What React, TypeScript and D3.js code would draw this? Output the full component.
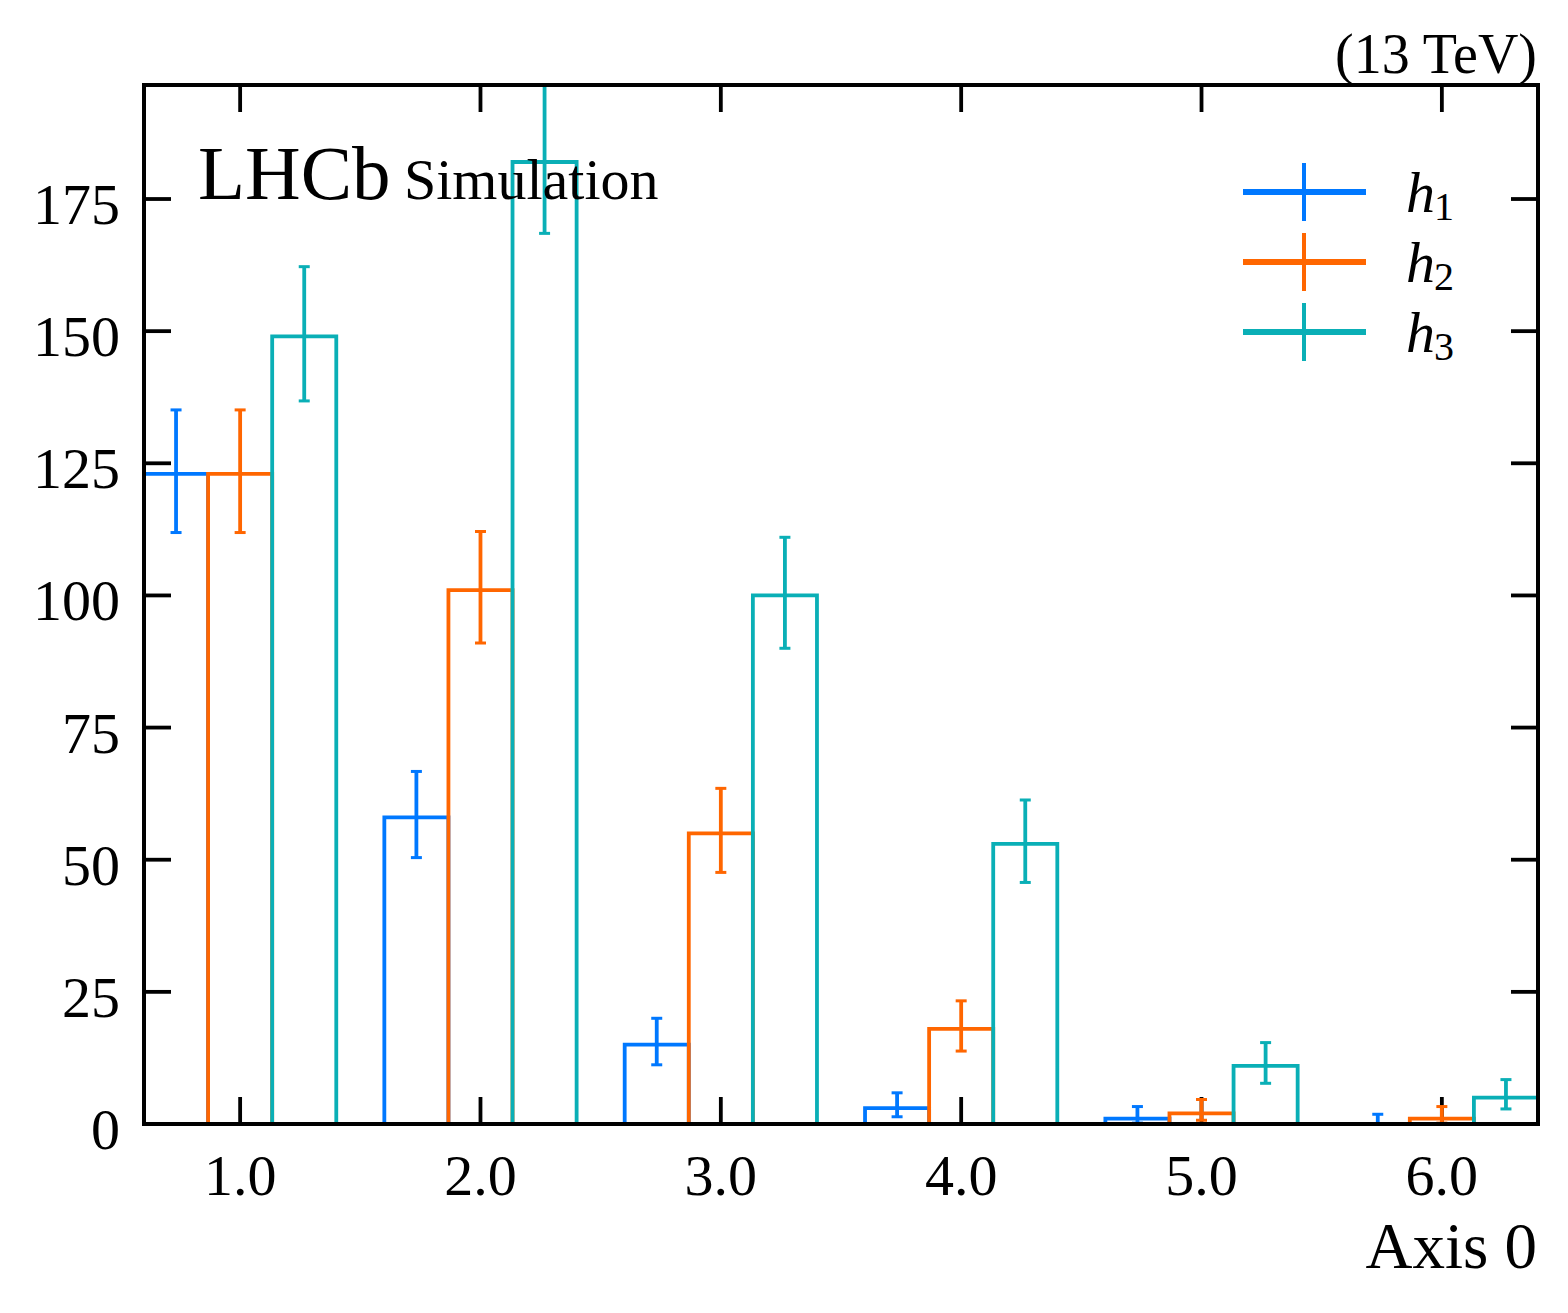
import React from "react";
import * as d3 from "d3";

// ---- data ----
const binCenters = [1, 2, 3, 4, 5, 6];
const seriesNames = ["h1", "h2", "h3"];
const seriesSubs = ["1", "2", "3"];
const seriesColors = ["#0078FF", "#FF6600", "#0AAFB6"];

const h1Values = [123, 58, 15, 3, 1, 0];
const h2Values = [123, 101, 55, 18, 2, 1];
const h3Values = [149, 182, 100, 53, 11, 5];

const h1Low = [111.9, 50.4, 11.2, 1.37, 0.17, 0];
const h1High = [135.1, 66.7, 20.0, 5.9, 3.3, 1.84];
const h2Low = [111.9, 91.0, 47.6, 13.8, 0.71, 0.17];
const h2High = [135.1, 112.1, 63.5, 23.3, 4.64, 3.3];
const h3Low = [136.8, 168.5, 90.0, 45.7, 7.7, 2.85];
const h3High = [162.2, 196.5, 111.0, 61.3, 15.4, 8.4];

const xTicks = [1, 2, 3, 4, 5, 6];
const xTickLabels = ["1.0", "2.0", "3.0", "4.0", "5.0", "6.0"];
const yTicks = [0, 25, 50, 75, 100, 125, 150, 175];
const yTickLabels = ["0", "25", "50", "75", "100", "125", "150", "175"];

const xDomain = [0.6, 6.4];
const yDomain = [0, 196.57];

const values = [h1Values, h2Values, h3Values];
const lows = [h1Low, h2Low, h3Low];
const highs = [h1High, h2High, h3High];

const W = 1568;
const H = 1313;
const L = 144;
const R = 1538;
const T = 85;
const B = 1124;
const FONT = "'Liberation Serif', 'Times New Roman', Times, serif";

export default function App() {
  const x = d3.scaleLinear().domain(xDomain).range([L, R]);
  const y = d3.scaleLinear().domain(yDomain).range([B, T]);
  const sub = d3.scaleBand<string>().domain(seriesNames).range([-0.4, 0.4]);
  const tickLen = 27;
  const tickW = 3.8;

  const stepPath = (si: number) => {
    const p = d3.path();
    const name = seriesNames[si];
    binCenters.forEach((c, i) => {
      const xl = x(c + (sub(name) as number));
      const xr = x(c + (sub(name) as number) + sub.bandwidth());
      const yv = y(values[si][i]);
      if (i === 0) p.moveTo(xl, y(0));
      else p.lineTo(xl, y(0));
      p.lineTo(xl, yv);
      p.lineTo(xr, yv);
      p.lineTo(xr, y(0));
    });
    return p.toString();
  };

  return (
    <div style={{ position: "absolute", left: 0, top: 0 }}>
      <svg width={W} height={H} viewBox={`0 0 ${W} ${H}`} style={{ display: "block", background: "#fff" }}>
        <defs>
          <clipPath id="plotclip">
            <rect x={L} y={T} width={R - L} height={B - T} />
          </clipPath>
        </defs>
        <rect x={0} y={0} width={W} height={H} fill="#fff" />

        {/* ticks */}
        <g stroke="#000" strokeWidth={tickW}>
          {xTicks.map((t) => (
            <g key={"xt" + t}>
              <line x1={x(t)} x2={x(t)} y1={B} y2={B - tickLen} />
              <line x1={x(t)} x2={x(t)} y1={T} y2={T + tickLen} />
            </g>
          ))}
          {yTicks.map((t) => (
            <g key={"yt" + t}>
              <line x1={L} x2={L + tickLen} y1={y(t)} y2={y(t)} />
              <line x1={R} x2={R - tickLen} y1={y(t)} y2={y(t)} />
            </g>
          ))}
        </g>

        {/* histograms */}
        <g clipPath="url(#plotclip)">
          {seriesNames.map((name, si) => (
            <g key={name}>
              <path d={stepPath(si)} fill="none" stroke={seriesColors[si]} strokeWidth={3.8} strokeLinejoin="miter" />
              {binCenters.map((c, i) => {
                const xc = x(c + (sub(name) as number) + sub.bandwidth() / 2);
                const yl = y(lows[si][i]);
                const yh = y(highs[si][i]);
                return (
                  <g key={i} stroke={seriesColors[si]}>
                    <line x1={xc} x2={xc} y1={yl} y2={yh} strokeWidth={3.8} />
                    <line x1={xc - 5.5} x2={xc + 5.5} y1={yl} y2={yl} strokeWidth={3} />
                    <line x1={xc - 5.5} x2={xc + 5.5} y1={yh} y2={yh} strokeWidth={3} />
                  </g>
                );
              })}
            </g>
          ))}
        </g>

        {/* frame */}
        <rect x={L} y={T} width={R - L} height={B - T} fill="none" stroke="#000" strokeWidth={4} />

        {/* tick labels */}
        <g fontFamily={FONT} fontSize={58} fill="#000">
          {xTicks.map((t, i) => (
            <text key={"xl" + t} x={x(t)} y={1195} textAnchor="middle">
              {xTickLabels[i]}
            </text>
          ))}
          {yTicks.map((t, i) => (
            <text key={"yl" + t} x={120} y={y(t) + 25} textAnchor="end">
              {yTickLabels[i]}
            </text>
          ))}
        </g>

        {/* axis label */}
        <text x={1537} y={1268} textAnchor="end" fontFamily={FONT} fontSize={65}>
          Axis 0
        </text>

        {/* experiment label */}
        <text x={198} y={199} fontFamily={FONT} fill="#000">
          <tspan fontSize={77}>LHCb</tspan>
          <tspan x={404} fontSize={58}>Simulation</tspan>
        </text>
        <text x={1537} y={73} textAnchor="end" fontFamily={FONT} fontSize={56}>
          (13 TeV)
        </text>

        {/* legend */}
        {seriesNames.map((name, si) => {
          const ly = 192 + si * 70;
          return (
            <g key={"lg" + name}>
              <line x1={1243} x2={1366} y1={ly} y2={ly} stroke={seriesColors[si]} strokeWidth={6} />
              <line x1={1304} x2={1304} y1={ly - 29} y2={ly + 29} stroke={seriesColors[si]} strokeWidth={4} />
              <text x={1406} y={ly + 20} fontFamily={FONT} fontSize={58}>
                <tspan fontStyle="italic">h</tspan>
                <tspan x={1434} dy={8} fontSize={40}>
                  {seriesSubs[si]}
                </tspan>
              </text>
            </g>
          );
        })}
      </svg>
    </div>
  );
}
